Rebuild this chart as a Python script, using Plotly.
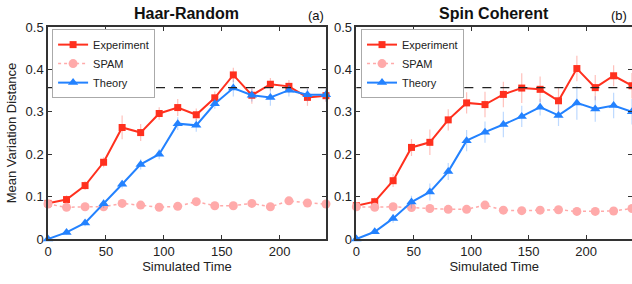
import plotly.graph_objects as go

t = [0, 16, 32, 48, 64, 80, 96, 112, 128, 144, 160, 176, 192, 208, 224, 240]

haar_exp = [0.084, 0.093, 0.126, 0.181, 0.263, 0.251, 0.296, 0.310, 0.293, 0.333, 0.387, 0.339, 0.365, 0.360, 0.334, 0.338]
haar_exp_err = [0.005, 0.01, 0.01, 0.012, 0.028, 0.02, 0.015, 0.02, 0.015, 0.015, 0.017, 0.02, 0.015, 0.015, 0.02, 0.015]
haar_spam = [0.0825, 0.0746, 0.076, 0.076, 0.084, 0.080, 0.075, 0.077, 0.088, 0.0785, 0.0785, 0.084, 0.076, 0.090, 0.085, 0.0825]
haar_theory = [0.0, 0.0156, 0.038, 0.083, 0.129, 0.176, 0.200, 0.272, 0.268, 0.319, 0.356, 0.339, 0.334, 0.351, 0.340, 0.340]
haar_theory_err = [0, 0.005, 0.008, 0.01, 0.01, 0.012, 0.012, 0.015, 0.015, 0.012, 0.02, 0.015, 0.02, 0.015, 0.015, 0.015]

spin_exp = [0.0785, 0.088, 0.1375, 0.216, 0.228, 0.281, 0.321, 0.317, 0.341, 0.356, 0.353, 0.326, 0.402, 0.357, 0.385, 0.3615]
spin_exp_err = [0.005, 0.01, 0.015, 0.02, 0.03, 0.025, 0.025, 0.03, 0.03, 0.035, 0.03, 0.03, 0.03, 0.03, 0.025, 0.03]
spin_spam = [0.076, 0.075, 0.076, 0.074, 0.072, 0.070, 0.070, 0.080, 0.068, 0.0668, 0.068, 0.069, 0.065, 0.065, 0.066, 0.072]
spin_theory = [0.0, 0.017, 0.0486, 0.087, 0.111, 0.159, 0.232, 0.252, 0.270, 0.289, 0.311, 0.2915, 0.321, 0.3066, 0.315, 0.300]
spin_theory_err = [0, 0.005, 0.01, 0.015, 0.02, 0.02, 0.025, 0.025, 0.03, 0.025, 0.02, 0.025, 0.04, 0.03, 0.03, 0.03]

haar_limit = 0.357
spin_limit = 0.357

panel_titles = ["Haar-Random", "Spin Coherent"]
panel_tags = ["(a)", "(b)"]

RED = "rgb(255,48,30)"
RED_ERR = "rgba(255,48,30,0.3)"
BLUE = "rgb(35,130,255)"
BLUE_ERR = "rgba(35,130,255,0.3)"
PINK = "rgb(255,170,170)"

fig = go.Figure()

def add_panel(xa, ya, leg, exp, exp_err, spam, theory, theory_err):
    fig.add_trace(go.Scatter(
        x=t, y=exp, name="Experiment", mode="lines+markers", xaxis=xa, yaxis=ya, legend=leg,
        line=dict(color=RED, width=2), marker=dict(symbol="square", size=7, color=RED),
        error_y=dict(type="data", array=exp_err, color=RED_ERR, thickness=1.2, width=0),
        cliponaxis=False))
    fig.add_trace(go.Scatter(
        x=t, y=spam, name="SPAM", mode="lines+markers", xaxis=xa, yaxis=ya, legend=leg,
        line=dict(color=PINK, width=1.5, dash="dot"), marker=dict(symbol="circle", size=9, color=PINK),
        cliponaxis=False))
    fig.add_trace(go.Scatter(
        x=t, y=theory, name="Theory", mode="lines+markers", xaxis=xa, yaxis=ya, legend=leg,
        line=dict(color=BLUE, width=2), marker=dict(symbol="triangle-up", size=9, color=BLUE),
        error_y=dict(type="data", array=theory_err, color=BLUE_ERR, thickness=1.2, width=0),
        cliponaxis=False))

add_panel("x", "y", "legend", haar_exp, haar_exp_err, haar_spam, haar_theory, haar_theory_err)
add_panel("x2", "y2", "legend2", spin_exp, spin_exp_err, spin_spam, spin_theory, spin_theory_err)

FONT = "Liberation Sans, Arial, sans-serif"
axis_common = dict(showline=True, linecolor="#333", linewidth=1.5, mirror="ticks", ticks="inside",
                   ticklen=4, tickcolor="#333", tickwidth=1, showgrid=False, zeroline=False,
                   automargin=False,
                   tickfont=dict(size=13, color="#222", family=FONT))

yticks = [0, 0.1, 0.2, 0.3, 0.4, 0.5]
yticktext = ["0", "0.1", "0.2", "0.3", "0.4", "0.5"]
xticks = [0, 50, 100, 150, 200]

fig.update_layout(
    width=632, height=284,
    margin=dict(l=48, r=0, t=27, b=45),
    plot_bgcolor="white", paper_bgcolor="white",
    font=dict(family=FONT, color="#222"),
    showlegend=True,
    xaxis=dict(domain=[0.0, 0.476], range=[0, 240], tickvals=xticks,
               title=dict(text="Simulated Time", font=dict(size=13), standoff=4), **axis_common),
    yaxis=dict(range=[0, 0.5], tickvals=yticks, ticktext=yticktext,
               title=dict(text="Mean Variation Distance", font=dict(size=13), standoff=6), **axis_common),
    xaxis2=dict(domain=[0.528, 1.0], range=[0, 240], tickvals=xticks, anchor="y2",
                title=dict(text="Simulated Time", font=dict(size=13), standoff=4), **axis_common),
    yaxis2=dict(range=[0, 0.5], tickvals=yticks, ticktext=yticktext,
                anchor="x2", **axis_common),
    legend=dict(x=0.007, y=0.99, xref="paper", yref="paper", xanchor="left", yanchor="top",
                bgcolor="white", bordercolor="#aaa", borderwidth=1, font=dict(size=11, family=FONT),
                itemwidth=30, tracegroupgap=0),
    legend2=dict(x=0.536, y=0.99, xref="paper", yref="paper", xanchor="left", yanchor="top",
                 bgcolor="white", bordercolor="#aaa", borderwidth=1, font=dict(size=11, family=FONT),
                 itemwidth=30, tracegroupgap=0),
)

fig.add_shape(type="line", xref="x domain", yref="y", x0=0, x1=1, y0=haar_limit, y1=haar_limit,
              line=dict(color="#222", width=1.2, dash="dash"))
fig.add_shape(type="line", xref="x2 domain", yref="y2", x0=0, x1=1, y0=spin_limit, y1=spin_limit,
              line=dict(color="#222", width=1.2, dash="dash"))

for i, (title, tag) in enumerate(zip(panel_titles, panel_tags)):
    xd = "x domain" if i == 0 else "x2 domain"
    fig.add_annotation(text="<b>%s</b>" % title, xref=xd, yref="paper", x=0.5, y=1.0, yshift=14,
                       showarrow=False, font=dict(size=16, family=FONT, color="#111"), yanchor="middle")
    fig.add_annotation(text=tag, xref=xd, yref="paper", x=1.0, y=1.0, yshift=12, xanchor="right",
                       xshift=(0 if i == 0 else -3),
                       showarrow=False, font=dict(size=13, family=FONT, color="#111"), yanchor="middle")

fig.write_html("out.html", config={"displayModeBar": False},
               post_script="document.body.style.margin='0';document.body.style.overflow='hidden';")
